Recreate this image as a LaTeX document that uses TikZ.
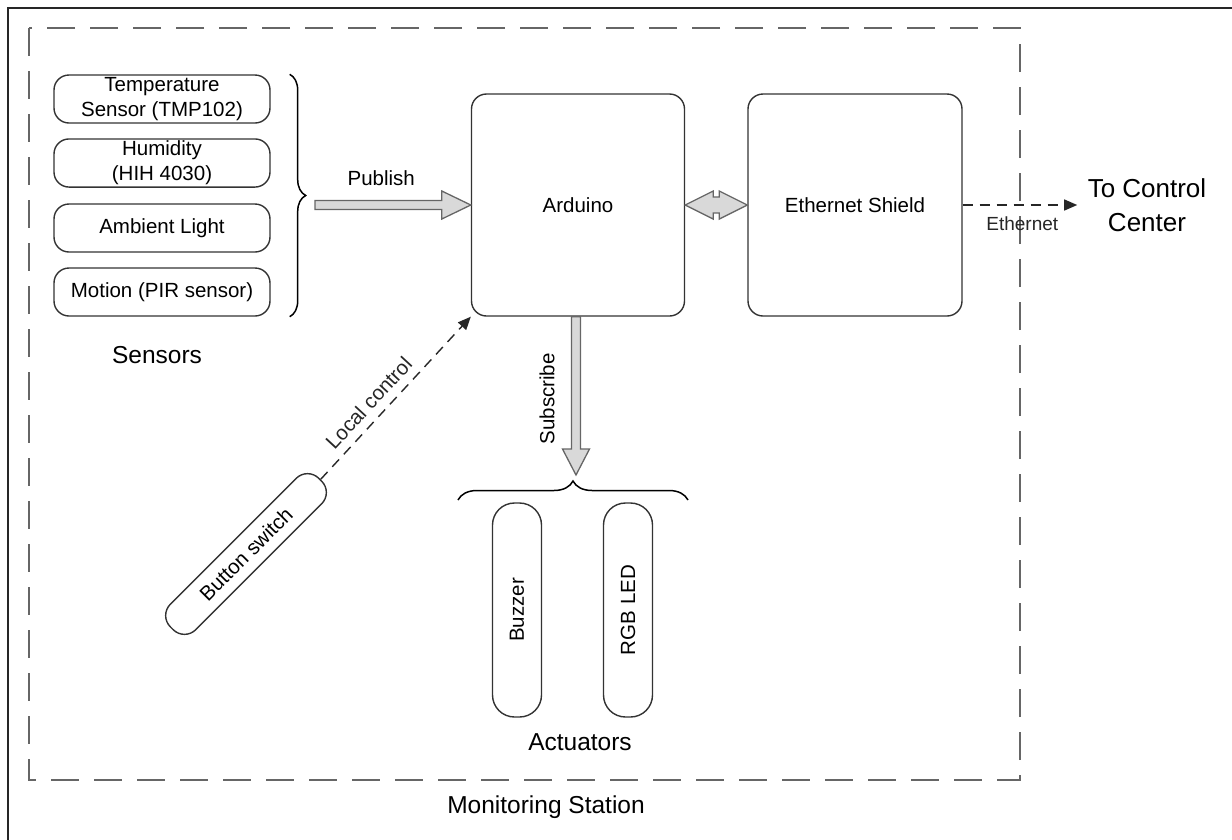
\documentclass[tikz,border=0pt]{standalone}
\usepackage{fontspec}
\setmainfont{Liberation Sans}
\usetikzlibrary{positioning,calc,arrows.meta,decorations.pathreplacing}
\tikzset{
  blk/.style={draw=black!80,line width=1.4pt,rounded corners=15pt,align=center,inner sep=2pt,font=\fontsize{20.5}{25}\selectfont},
  sens/.style={blk,minimum width=216,minimum height=48},
  act/.style={blk,rotate=90,minimum width=214,minimum height=49,rounded corners=22pt},
  fat/.style={draw=black!60,fill=black!15,line width=1.3pt,line join=miter},
  dsh/.style={black!85,line width=1.4pt,dash pattern=on 10pt off 7pt,-{Triangle[length=13pt,width=11pt]}},
  grp/.style={font=\fontsize{24.5}{29}\selectfont},
  brc/.style={decorate,decoration={brace,amplitude=16pt},line width=1.5pt}
}
\begin{document}
\begin{tikzpicture}[x=1pt,y=-1pt]
\useasboundingbox (0,0) rectangle (1232,839);
\clip (0,0) rectangle (1232,839);
\draw[black!85,line width=2pt] (8,8) rectangle (1250,860);
% monitoring station
\draw[black!60,line width=2pt,dash pattern=on 28pt off 15pt] (29,28) rectangle (1020,780);
\node[grp] (mon) at (546,807) {Monitoring Station};

% sensors
\node[sens] (tmp) at (162,99) {Temperature\\Sensor (TMP102)};
\node[sens] (hum) at (162,163) {Humidity\\(HIH 4030)};
\node[sens] (amb) at (162,228) {Ambient Light};
\node[sens] (pir) at (162,292) {Motion (PIR sensor)};
\node[grp] (sns) at (157,355) {Sensors};
\draw[brc] ([xshift=19]tmp.north east) -- ([xshift=19]pir.south east);
\coordinate (sbr) at (305,197);

% main boards
\node[blk,minimum width=213,minimum height=222] (ard) at (578,205) {Arduino};
\node[blk,minimum width=214,minimum height=222] (eth) at (855,205) {Ethernet Shield};

\draw[fat] ($(sbr |- ard.west)+(10,-4.5)$) -- ($(ard.west)+(-29,-4.5)$) -- ($(ard.west)+(-29,-14)$) -- (ard.west)
  -- ($(ard.west)+(-29,14)$) -- ($(ard.west)+(-29,4.5)$) -- ($(sbr |- ard.west)+(10,4.5)$) -- cycle;
\node[blk,draw=none] (pub) at ($(sbr |- ard.west)!0.46!(ard.west)+(0,-27)$) {Publish};

\draw[fat] (ard.east) -- ($(ard.east)+(28,-14)$) -- ($(ard.east)+(28,-8)$) -- ($(eth.west)+(-28,-8)$)
  -- ($(eth.west)+(-28,-14)$) -- (eth.west) -- ($(eth.west)+(-28,14)$) -- ($(eth.west)+(-28,8)$)
  -- ($(ard.east)+(28,8)$) -- ($(ard.east)+(28,14)$) -- cycle;

% to control center
\node[align=center,font=\fontsize{26}{34}\selectfont] (ctl) at (1147,205) {To Control\\Center};
\draw[dsh] (eth.east) -- ([xshift=-7]ctl.west) node[pos=0.52,below=8pt,font=\fontsize{19}{22}\selectfont] {Ethernet};

% actuators
\draw[brc,decoration={amplitude=19pt}] (458,500) -- (688,500);
\coordinate (abr) at (576,481);
\draw[fat] ($(ard.south -| abr)+(-4.5,0)$) -- ($(abr)+(-4.5,-32)$) -- ($(abr)+(-13.5,-32)$) -- ($(abr)+(0,-6)$)
  -- ($(abr)+(13.5,-32)$) -- ($(abr)+(4.5,-32)$) -- ($(ard.south -| abr)+(4.5,0)$) -- cycle;
\node[blk,draw=none,rotate=90] (sub) at ($(ard.south -| abr)!0.5!(abr)+(-29,0)$) {Subscribe};
\node[act] (buz) at (517,610) {Buzzer};
\node[act] (rgb) at (628,610) {RGB LED};
\node[grp] (acts) at (580,742) {Actuators};

% local control
\node[blk,rotate=45,minimum width=210,minimum height=36,rounded corners=16pt] (btn) at (246,554) {Button switch};
\draw[dsh] (btn.east) -- (ard.south west) node[pos=0.4,above=5pt,sloped,font=\fontsize{20.5}{25}\selectfont] {Local control};
\end{tikzpicture}
\end{document}
